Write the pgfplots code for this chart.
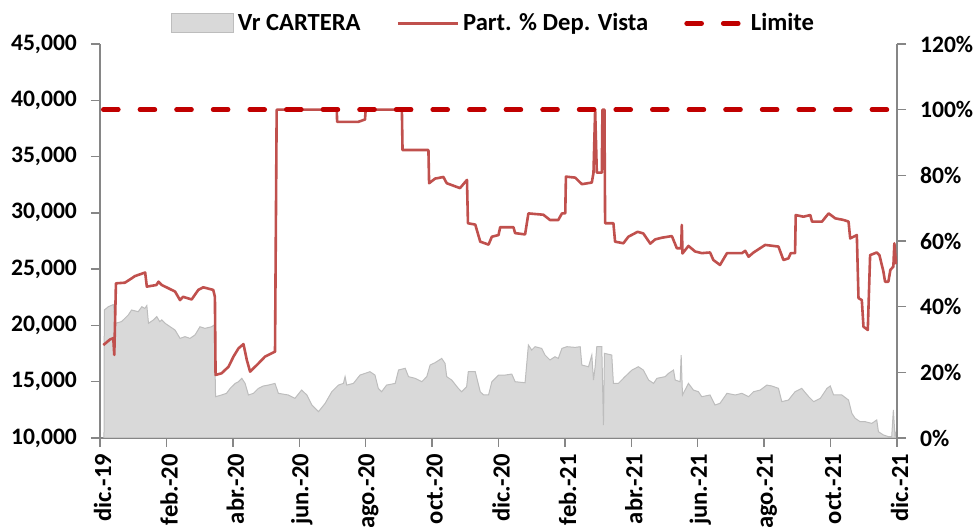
\documentclass[border=0pt]{standalone}
\usepackage{pgfplots}
\pgfplotsset{compat=1.18}
\usepackage{fontspec}
\setmainfont{Carlito}
\definecolor{graycol}{HTML}{D9D9D9}
\definecolor{grayedge}{HTML}{BDBDBD}
\definecolor{redcol}{HTML}{C0504D}
\definecolor{limcol}{HTML}{C00000}
\definecolor{axgray}{HTML}{868686}
\begin{document}
\begin{tikzpicture}
\begin{axis}[
  width=398.5pt, height=197pt, scale only axis,
  xmin=0, xmax=24, ymin=10000, ymax=45000,
  axis x line*=bottom, axis y line*=left,
  axis line style={draw=axgray, line width=0.7pt},
  tick style={draw=axgray, line width=0.7pt},
  tick align=outside, major tick length=4.5pt,
  xtick={0,2,...,24},
  xticklabels={dic.-19,feb.-20,abr.-20,jun.-20,ago.-20,oct.-20,dic.-20,feb.-21,abr.-21,jun.-21,ago.-21,oct.-21,dic.-21},
  xticklabel style={rotate=90, anchor=east, font=\bfseries\fontsize{12.3}{13}\selectfont, yshift=-1.3pt},
  ytick={10000,15000,...,45000},
  scaled y ticks=false,
  yticklabel style={font=\bfseries\fontsize{11.8}{13}\selectfont, xshift=-3.5pt,
    /pgf/number format/.cd, fixed, 1000 sep={,}, assume math mode=true},
  clip=true,
]
\addplot[fill=graycol, draw=grayedge, line width=0.5pt] coordinates {
(0.12,10000) (0.13,21370) (0.25,21660) (0.40,21850) (0.47,20190) (0.65,20340) (0.85,20920)
(0.95,21370) (1.15,21220) (1.26,21660) (1.35,21510) (1.41,21760) (1.46,20190) (1.61,20490)
(1.71,20780) (1.80,20340) (1.86,20490) (1.96,20190) (2.26,19590) (2.41,18850) (2.56,19000)
(2.71,18850) (2.86,19150) (3.01,19880) (3.16,19740) (3.36,19880) (3.44,20040) (3.48,13670)
(3.66,13820) (3.81,13970) (3.92,14410) (4.07,14850) (4.17,15000) (4.27,15300) (4.37,14850)
(4.47,13820) (4.62,13970) (4.77,14410) (4.92,14620) (5.07,14700) (5.27,14850) (5.37,13970)
(5.67,13820) (5.87,13520) (6.07,14260) (6.23,13820) (6.38,12930) (6.58,12340) (6.78,13080)
(6.98,14110) (7.18,14700) (7.33,14850) (7.38,15450) (7.43,14700) (7.63,14850) (7.83,15590)
(7.98,15740) (8.13,15890) (8.28,15590) (8.38,14410) (8.48,14110) (8.63,14700) (8.89,14850)
(8.99,16040) (9.19,16190) (9.29,15450) (9.49,15300) (9.69,15000) (9.84,15450) (9.94,16480)
(10.09,16690) (10.29,17070) (10.39,16630) (10.44,15450) (10.59,15150) (10.79,14410) (10.89,14110)
(11.04,14560) (11.09,15890) (11.30,15890) (11.45,14110) (11.55,13820) (11.70,13820) (11.80,15000)
(12.00,15590) (12.20,15590) (12.40,15680) (12.50,15000) (12.80,14910) (12.90,18260) (13.00,17810)
(13.10,18110) (13.30,17960) (13.40,17370) (13.55,16930) (13.70,17220) (13.80,17070) (13.91,17960)
(14.06,18110) (14.31,18050) (14.46,18110) (14.51,16480) (14.71,16330) (14.81,17370) (14.86,15150)
(14.91,16330) (14.96,18110) (15.11,18110) (15.16,11150) (15.19,17520) (15.41,17370) (15.46,14850)
(15.61,14850) (15.81,15450) (16.02,16040) (16.21,16330) (16.36,16040) (16.52,15150) (16.67,14850)
(16.77,15300) (17.02,15450) (17.12,15740) (17.27,16040) (17.32,15150) (17.47,15000) (17.50,17370)
(17.54,13820) (17.72,14850) (17.87,14260) (18.02,14110) (18.12,13670) (18.37,13820) (18.52,12930)
(18.67,13080) (18.88,13970) (19.13,13820) (19.33,13970) (19.53,13670) (19.68,14110) (19.88,14260)
(20.08,14700) (20.23,14620) (20.43,14410) (20.53,13230) (20.73,13370) (20.93,14110) (21.13,14410)
(21.34,13670) (21.49,13230) (21.69,13520) (21.89,14410) (21.99,14620) (22.09,13820) (22.34,13820)
(22.54,13370) (22.64,12190) (22.74,11750) (22.89,11450) (23.04,11450) (23.24,11300) (23.39,11600)
(23.44,10560) (23.59,10270) (23.74,10120) (23.84,10120) (23.89,12490) (23.94,10120) (23.99,10710)
(24.00,10000)
} \closedcycle;
\coordinate (bl) at (rel axis cs:0,0);
\coordinate (tr) at (rel axis cs:1,1);
\end{axis}
\begin{axis}[
  width=398.5pt, height=197pt, scale only axis,
  xmin=0, xmax=24, ymin=0, ymax=120,
  axis y line*=right, axis x line=none,
  axis line style={draw=axgray, line width=0.7pt},
  tick style={draw=axgray, line width=0.7pt},
  tick align=outside, major tick length=4.5pt,
  ytick={0,20,...,120},
  yticklabel={\pgfmathprintnumber{\tick}\%},
  yticklabel style={font=\bfseries\fontsize{11.8}{13}\selectfont, xshift=3.5pt,
    /pgf/number format/.cd, assume math mode=true},
  legend columns=3,
  legend style={at={(0.495,1)}, anchor=south, yshift=3pt, draw=none, fill=none,
    font=\bfseries\fontsize{12.3}{14}\selectfont, inner sep=0pt,
    /tikz/every even column/.append style={column sep=16pt}},
  legend cell align=left,
]
\addlegendimage{legend image code/.code={\draw[fill=graycol, draw=grayedge, line width=0.5pt] (0pt,-4.5pt) rectangle (31pt,5pt);}}
\addlegendentry{Vr CARTERA}
\addplot[color=redcol, line width=1.3pt, line join=round,
  legend image code/.code={\draw[color=redcol, line width=1.3pt] (0pt,0pt) -- (30pt,0pt);}] coordinates {
(0.10,28.3) (0.30,30.0) (0.40,30.4) (0.43,25.3) (0.48,47.1) (0.75,47.3) (0.95,48.6) (1.05,49.3)
(1.36,50.4) (1.41,46.1) (1.70,46.6) (1.76,47.6) (1.86,46.6) (2.26,44.6) (2.41,42.0) (2.50,43.0)
(2.76,42.2) (2.96,45.1) (3.11,45.9) (3.41,45.1) (3.46,43.0) (3.48,19.2) (3.66,19.7) (3.87,21.7)
(4.02,24.8) (4.17,27.3) (4.32,28.6) (4.42,23.8) (4.52,20.2) (4.77,22.7) (4.97,24.8) (5.27,26.3)
(5.32,100) (7.13,100) (7.14,96.3) (7.78,96.3) (7.98,97.0) (8.00,100) (9.09,100) (9.11,87.7)
(9.89,87.7) (9.91,77.6) (10.09,79.0) (10.34,79.5) (10.44,77.6) (10.84,76.1) (11.05,78.6) (11.08,65.4)
(11.30,65.0) (11.45,59.8) (11.70,58.9) (11.80,61.3) (12.00,61.8) (12.05,64.2) (12.45,64.2) (12.50,62.4)
(12.80,62.0) (12.90,68.4) (13.35,68.0) (13.55,66.4) (13.80,66.4) (13.91,68.4) (14.01,68.4) (14.03,79.6)
(14.31,79.3) (14.51,77.3) (14.81,77.8) (14.86,80.8) (14.91,100) (14.96,80.8) (15.11,80.8) (15.13,100)
(15.19,100) (15.21,65.4) (15.46,65.4) (15.51,59.8) (15.76,59.3) (15.91,61.3) (16.19,62.8) (16.36,62.3)
(16.57,59.2) (16.72,60.5) (16.92,61.0) (17.22,61.5) (17.37,57.8) (17.50,57.8) (17.52,64.9) (17.54,56.2)
(17.72,58.5) (17.92,56.8) (18.12,56.3) (18.37,56.5) (18.47,54.2) (18.67,52.7) (18.88,56.3) (19.33,56.3)
(19.43,57.0) (19.53,55.2) (19.68,56.5) (20.03,58.8) (20.43,58.3) (20.58,54.2) (20.73,54.7) (20.80,56.3)
(20.93,56.3) (20.95,67.9) (21.18,67.4) (21.39,67.9) (21.44,65.9) (21.74,65.9) (21.94,68.4) (22.14,66.9)
(22.39,66.4) (22.54,65.9) (22.59,60.8) (22.79,61.8) (22.84,42.6) (22.94,42.0) (22.99,33.9) (23.12,32.9)
(23.19,55.7) (23.39,56.5) (23.47,55.7) (23.59,50.7) (23.64,47.6) (23.74,47.6) (23.80,51.2) (23.89,52.2)
(23.92,59.3) (23.97,53.2) (24.00,54.0)
};
\addlegendentry{Part. \% Dep. Vista}
\addplot[color=limcol, line width=2.3pt, line cap=round, dash pattern=on 7.5pt off 10.8pt,
  legend image code/.code={\draw[color=limcol, line width=2.3pt, line cap=round, dash pattern=on 7.5pt off 10.8pt] (1pt,0pt) -- (30pt,0pt);}] coordinates {(0.1,100) (24,100)};
\addlegendentry{Limite}
\end{axis}
\pgfresetboundingbox
\path[use as bounding box] ([shift={(-50pt,-44.5pt)}]bl) rectangle ([shift={(40pt,22pt)}]tr);
\end{tikzpicture}
\end{document}
